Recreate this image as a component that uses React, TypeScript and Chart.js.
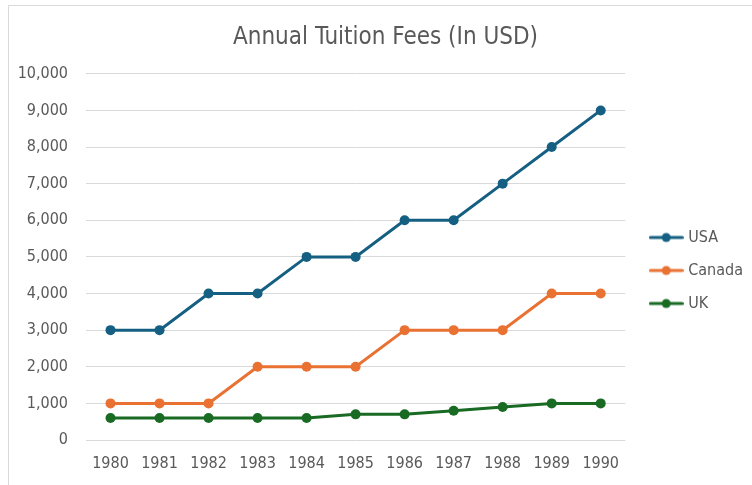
import React, { useEffect, useRef } from "react";
import { Chart, registerables } from "chart.js";

Chart.register(...registerables);

const years = ["1980", "1981", "1982", "1983", "1984", "1985", "1986", "1987", "1988", "1989", "1990"];
const usa = [3000, 3000, 4000, 4000, 5000, 5000, 6000, 6000, 7000, 8000, 9000];
const canada = [1000, 1000, 1000, 2000, 2000, 2000, 3000, 3000, 3000, 4000, 4000];
const uk = [600, 600, 600, 600, 600, 700, 700, 800, 900, 1000, 1000];

const seriesNames = ["USA", "Canada", "UK"];
const seriesColors = ["#156082", "#E97132", "#196B24"];

const FONT = "'Liberation Sans Narrow', 'DejaVu Sans Condensed', Roboto, sans-serif";

function legendIcon(color: string): HTMLCanvasElement {
  const c = document.createElement("canvas");
  c.width = 35;
  c.height = 12;
  const ctx = c.getContext("2d")!;
  ctx.strokeStyle = color;
  ctx.lineWidth = 3;
  ctx.lineCap = "round";
  ctx.beginPath();
  ctx.moveTo(1.5, 6);
  ctx.lineTo(33.5, 6);
  ctx.stroke();
  ctx.fillStyle = color;
  ctx.beginPath();
  ctx.arc(17.5, 6, 4.5, 0, Math.PI * 2);
  ctx.fill();
  return c;
}

const borderPlugin = {
  id: "frameBorder",
  beforeDraw(chart: any) {
    const ctx = chart.ctx;
    ctx.save();
    ctx.fillStyle = "#ffffff";
    ctx.fillRect(0, 0, chart.width, chart.height);
    ctx.strokeStyle = "#d9d9d9";
    ctx.lineWidth = 1;
    ctx.beginPath();
    ctx.moveTo(8.5, chart.height);
    ctx.lineTo(8.5, 5.5);
    ctx.lineTo(chart.width, 5.5);
    ctx.stroke();
    ctx.restore();
  },
};

const shiftPlugin = {
  id: "shiftBlocks",
  afterLayout(chart: any) {
    if (chart.titleBlock) {
      chart.titleBlock.left += 28;
    }
    if (chart.legend) {
      chart.legend.top += 28;
      chart.legend.bottom += 28;
      chart.legend.left += 10;
      chart.legend.right += 10;
    }
  },
};

export default function App() {
  const ref = useRef<HTMLCanvasElement | null>(null);

  useEffect(() => {
    document.body.style.margin = "0";
    const seriesData = [usa, canada, uk];
    const chart = new Chart(ref.current!, {
      type: "line",
      data: {
        labels: years,
        datasets: seriesNames.map((name, i) => ({
          label: name,
          data: seriesData[i],
          borderColor: seriesColors[i],
          backgroundColor: seriesColors[i],
          borderWidth: 3,
          pointRadius: 5,
          pointHoverRadius: 5,
          pointBackgroundColor: seriesColors[i],
          pointBorderColor: seriesColors[i],
          pointBorderWidth: 0,
          tension: 0,
        })),
      },
      options: {
        responsive: false,
        animation: false,
        layout: { padding: { left: 0, right: 9, top: 0, bottom: 0 } },
        plugins: {
          title: {
            display: true,
            text: "Annual Tuition Fees (In USD)",
            color: "#595959",
            font: { family: FONT, size: 24, weight: "normal" },
            padding: { top: 23, bottom: 22 },
          },
          legend: {
            position: "right",
            align: "center",
            labels: {
              usePointStyle: true,
              pointStyleWidth: 28,
              padding: 17,
              color: "#595959",
              font: { family: FONT, size: 16 },
              generateLabels: (chart: any) =>
                chart.data.datasets.map((ds: any, i: number) => ({
                  text: ds.label,
                  fillStyle: ds.borderColor,
                  strokeStyle: ds.borderColor,
                  lineWidth: 0,
                  pointStyle: legendIcon(seriesColors[i]),
                  hidden: false,
                  datasetIndex: i,
                  fontColor: "#595959",
                })),
            },
          },
          tooltip: { enabled: false },
        },
        scales: {
          x: {
            offset: true,
            grid: { display: false, drawTicks: false },
            border: { display: false },
            ticks: {
              color: "#595959",
              font: { family: FONT, size: 16 },
              padding: 14,
              maxRotation: 0,
            },
            afterFit: (scale: any) => {
              scale.height = 45;
            },
          },
          y: {
            min: 0,
            max: 10000,
            ticks: {
              stepSize: 1000,
              color: "#595959",
              font: { family: FONT, size: 16 },
              padding: 18,
              callback: (v: any) => Number(v).toLocaleString("en-US"),
            },
            grid: { color: "#d9d9d9", lineWidth: 1, drawTicks: false },
            border: { display: false },
            afterFit: (scale: any) => {
              scale.width = 86;
            },
          },
        },
      },
      plugins: [borderPlugin, shiftPlugin],
    });
    return () => chart.destroy();
  }, []);

  return (
    <div style={{ width: 752, height: 485 }}>
      <canvas ref={ref} width={752} height={485} style={{ display: "block" }} />
    </div>
  );
}
